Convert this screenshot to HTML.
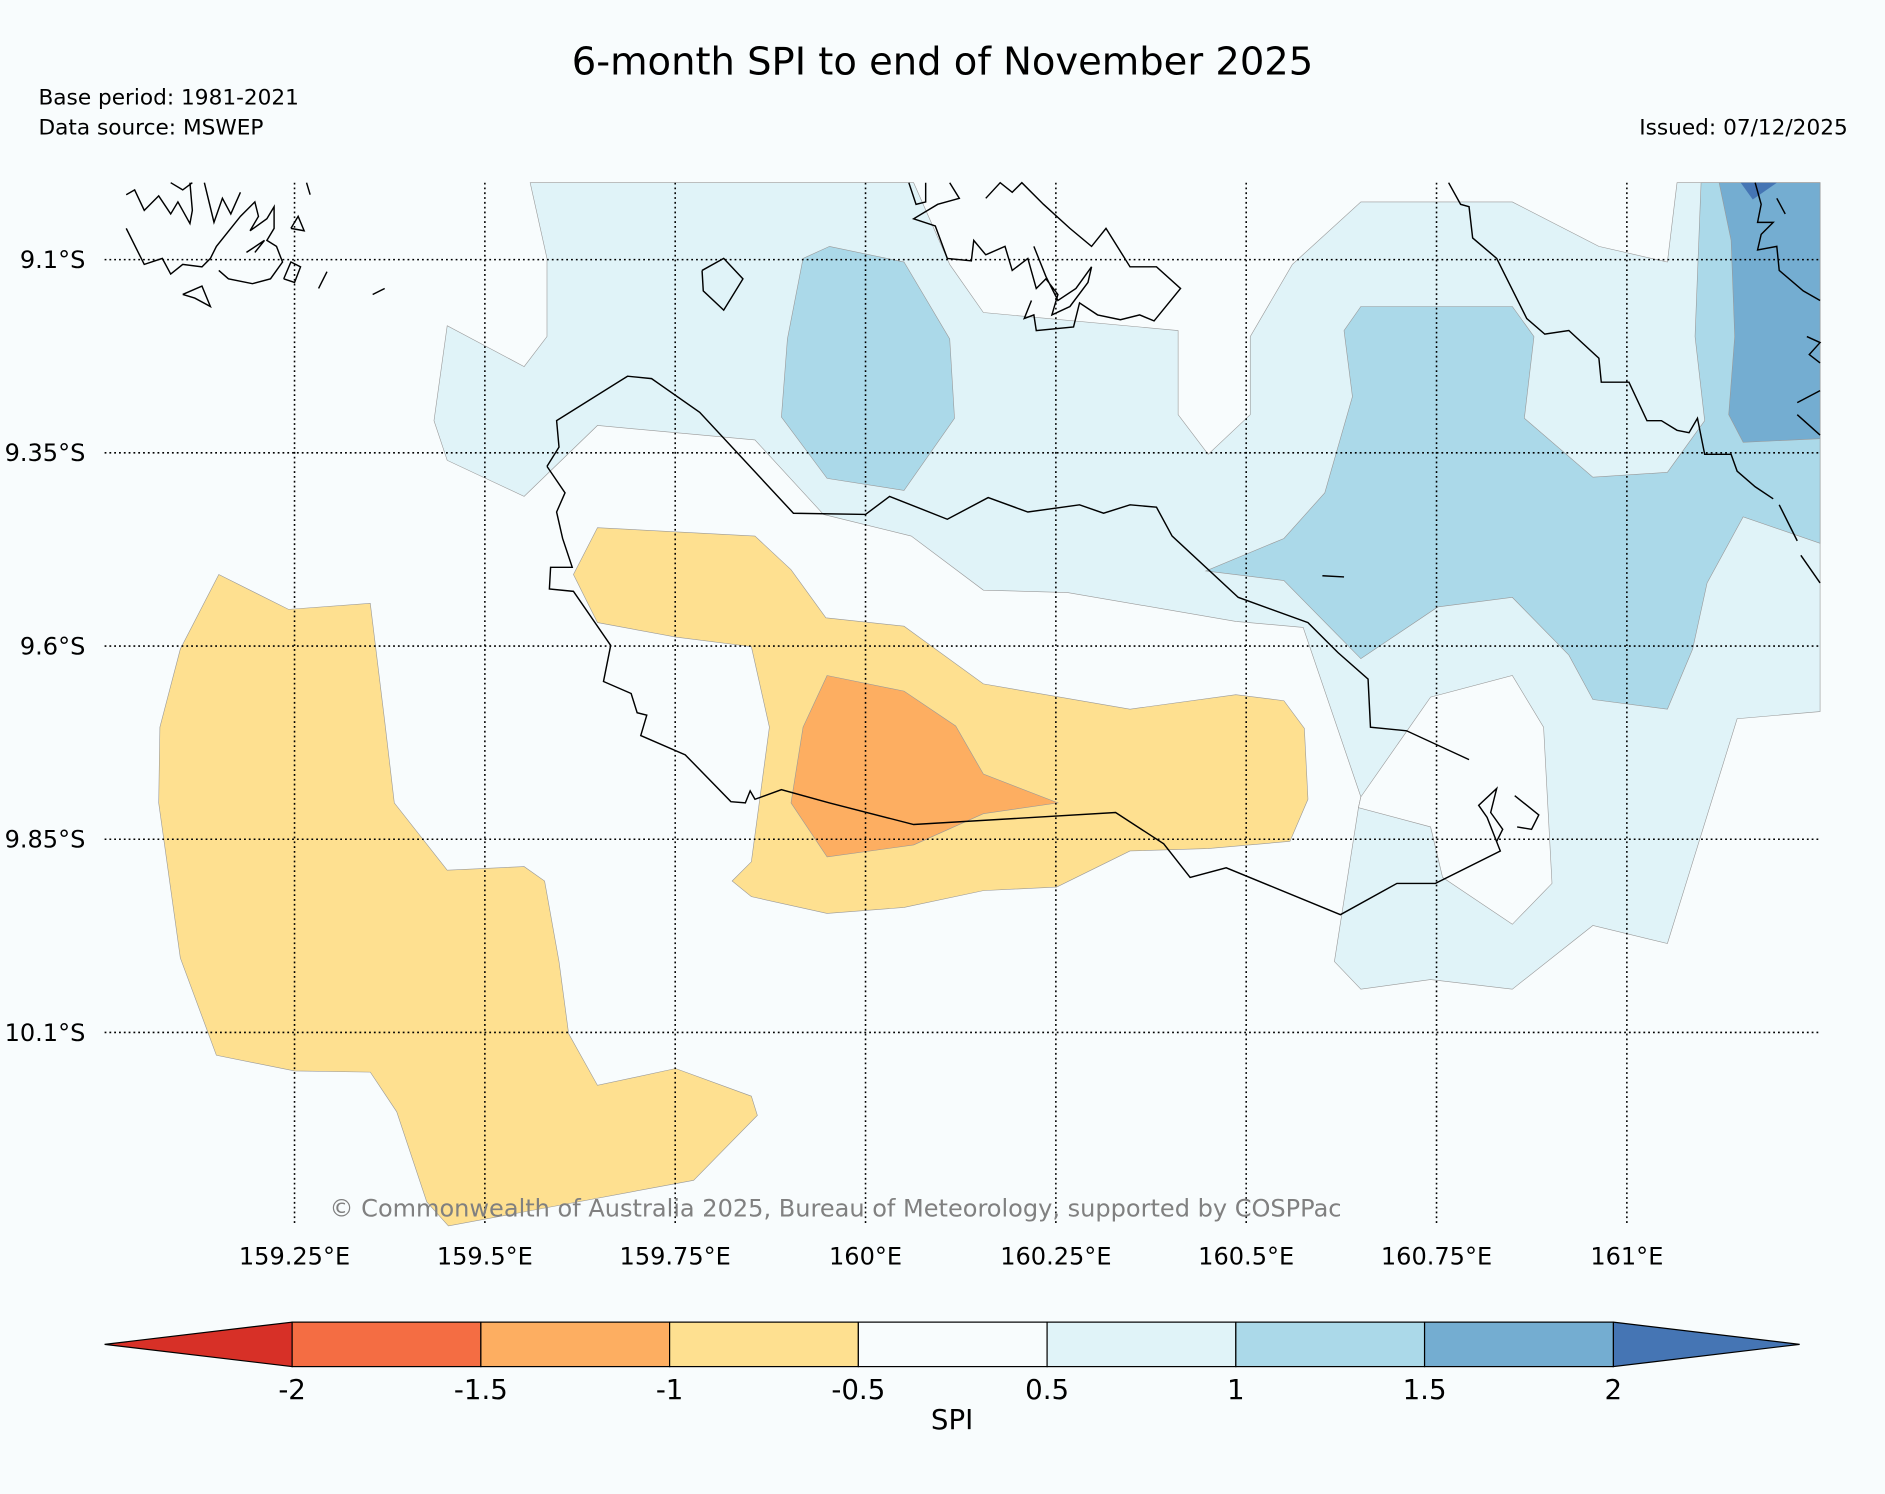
<!DOCTYPE html>
<html><head><meta charset="utf-8"><style>
html,body{margin:0;padding:0;background:#f8fcfd;}
svg{display:block;font-family:"DejaVu Sans","Liberation Sans",sans-serif;}
</style></head><body>
<svg id="chart" width="1885" height="1494" viewBox="0 0 1568 1243" preserveAspectRatio="none">
<rect width="1568" height="1243" fill="#f8fcfd"/>
<text x="784" y="62" font-size="32" text-anchor="middle">6-month SPI to end of November 2025</text>
<text x="32" y="87" font-size="18">Base period: 1981-2021</text>
<text x="32" y="112" font-size="18">Data source: MSWEP</text>
<text x="1537" y="112" font-size="18" text-anchor="end">Issued: 07/12/2025</text>
<g id="map">
<polygon fill="#e0f3f8" stroke="#999" stroke-width="0.5" points="441,152 760,152 790,220 818,260 980,275 980,345 1005,378 1040,345 1040,280 1075,220 1132,168 1258,168 1330,205 1387,218 1395,152 1514,152 1514,592 1445,598 1387,785 1325,770 1258,823 1190,815 1132,823 1110,800 1130,672 1132,663 1084,522 1028,517 888,493 818,491 758,446 685,428 628,366 497,354 436,413 372,383 361,350 372,271 436,305 455,280 455,215"/>
<polygon fill="#f8fcfd" stroke="#999" stroke-width="0.5" points="1132,663 1190,580 1258,562 1284,605 1291,735 1258,769 1200,730 1190,688 1130,672"/>
<polygon fill="#abd9e9" stroke="#999" stroke-width="0.5" points="690,205 752,218 790,282 794,348 752,408 688,398 650,347 655,282 668,215"/>
<polygon fill="#abd9e9" stroke="#999" stroke-width="0.5" points="1132,255 1258,255 1276,280 1268,348 1325,397 1387,393 1418,350 1410,280 1415,152 1514,152 1514,452 1450,430 1420,485 1408,540 1387,590 1325,582 1305,545 1258,497 1196,505 1132,548 1068,483 1003,475 1068,448 1102,410 1125,330 1118,275"/>
<polygon fill="#74add1" stroke="#999" stroke-width="0.5" points="1430,152 1514,152 1514,365 1450,368 1438,345 1443,280 1440,200"/>
<polygon fill="#4575b4" points="1448,152 1478,152 1458,166"/>
<polygon fill="#fee090" stroke="#999" stroke-width="0.5" points="182,478 240,507 308,502 320,600 328,668 372,724 436,721 453,733 465,800 473,860 497,903 562,889 625,912 630,928 577,982 373,1020 355,1000 330,925 308,892 245,891 180,878 150,797 132,668 133,605 150,540"/>
<polygon fill="#fee090" stroke="#999" stroke-width="0.5" points="497,439 628,446 658,474 687,514 752,521 818,569 940,590 1028,578 1068,583 1085,606 1088,665 1073,700 1005,706 940,708 879,738 818,741 752,755 688,760 625,746 609,733 625,717 640,605 625,538 562,530 497,518 477,478"/>
<polygon fill="#fdae61" stroke="#999" stroke-width="0.5" points="688,562 752,575 795,604 818,644 880,668 818,677 760,703 688,713 658,668 668,605"/>
<g fill="none" stroke="#000" stroke-width="1.2">
<polyline points="455,388 465,372 463,350 522,313 542,315 582,343 660,427 720,428 740,413 788,432 822,414 855,426 898,420 918,427 940,420 962,422 975,446 1030,497 1088,518 1113,543 1138,565 1140,605 1170,608 1222,632"/>
<polyline points="455,388 470,410 463,426 468,448 476,472 458,472 457,490 477,492 508,537 502,567 525,577 530,593 538,595 533,612 570,628 608,667 620,668 624,658 628,665 650,657 690,668 760,686 928,676 968,702 990,730 1020,722 1115,761 1162,735 1194,735 1248,708 1237,680 1230,670 1245,656 1240,676 1250,690 1245,700"/>
<polyline points="1260,662 1280,678 1274,690 1262,688"/>
<polyline points="1205,152 1215,170 1222,172 1225,198 1245,215 1270,265 1285,278 1305,275 1330,298 1332,318 1355,318 1370,350 1382,350 1395,358 1405,360 1412,348 1418,378 1440,378 1445,392 1460,405 1475,415"/>
<polyline points="1480,420 1495,450"/><polyline points="1498,462 1514,485"/>
<polyline points="584,225 602,215 618,232 602,258 585,242 584,225"/>
<polyline points="756,152 762,170 770,168 770,152"/>
<polyline points="790,152 798,165 780,170 760,182 778,188 788,215 808,217 810,200 820,212 836,205 842,225 855,215 862,240 870,232 880,245 875,262 890,255 905,235 908,222 895,240 880,250 870,230 860,205"/>
<polyline points="820,165 832,152 842,160 850,152 868,170 890,190 908,205 920,190 940,222 962,222 982,240 960,267 948,262 932,266 913,262 898,252 893,272 862,275 860,262 852,265 858,250"/>
<polyline points="105,162 112,158 120,175 132,163 142,178 148,168 158,186 160,175 158,152"/>
<polyline points="142,152 152,158 160,152"/>
<polyline points="170,152 178,185 185,165 192,178 200,160"/>
<polyline points="105,190 120,220 135,215 142,228 152,220 168,222 175,215 180,205 200,180 212,168 215,180 208,192 222,182 228,172 228,190 222,200 230,205 235,218 225,232 210,236 190,232 182,225"/>
<polyline points="152,245 168,238 175,255 162,248 152,245"/>
<polyline points="205,210 220,200 212,210"/>
<polyline points="242,190 248,180 253,192 242,190"/>
<polyline points="236,232 242,218 250,222 245,235 236,232"/>
<polyline points="265,240 272,226"/><polyline points="310,245 320,240"/>
<polyline points="255,152 258,162"/>
<polyline points="1100,479 1118,480"/>
<polyline points="1460,152 1465,170 1462,185 1475,185 1465,195 1462,208 1478,205 1480,225 1500,242 1514,250"/>
<polyline points="1478,165 1485,178"/>
<polyline points="1503,280 1514,285 1505,295 1514,302"/>
<polyline points="1495,335 1514,325"/><polyline points="1495,345 1514,362"/>
</g>
<g id="grid"></g>
</g>
<text x="695" y="1012" font-size="20" fill="#808080" text-anchor="middle">© Commonwealth of Australia 2025, Bureau of Meteorology, supported by COSPPac</text>
<g id="lonTicks"></g>
<g id="latTicks"></g>
<g id="colorbar"></g>
<text x="792" y="1189" font-size="23" text-anchor="middle">SPI</text>
</svg>
<script>
const lonValues = [159.25, 159.5, 159.75, 160, 160.25, 160.5, 160.75, 161];
const lonLabels = ["159.25°E","159.5°E","159.75°E","160°E","160.25°E","160.5°E","160.75°E","161°E"];
const latValues = [9.1, 9.35, 9.6, 9.85, 10.1];
const latLabels = ["9.1°S","9.35°S","9.6°S","9.85°S","10.1°S"];
const cbLevels = [-2, -1.5, -1, -0.5, 0.5, 1, 1.5, 2];
const cbLabels = ["-2","-1.5","-1","-0.5","0.5","1","1.5","2"];
const cbColors = ["#f46d43","#fdae61","#fee090","#f8fcfd","#e0f3f8","#abd9e9","#74add1"];
const cbUnder = "#d73027";
const cbOver = "#4575b4";

const NS = "http://www.w3.org/2000/svg";
function xLon(l){ return 245 + (l - 159.25) * 633.3; }
function yLat(l){ return 216 + (l - 9.1) * 643; }
function cbX(i){ return 243 + i * 157; }
function mk(tag, attrs, parent){ const e = document.createElementNS(NS, tag); for (const k in attrs) e.setAttribute(k, attrs[k]); parent.appendChild(e); return e; }

const grid = document.getElementById('grid');
const lonG = document.getElementById('lonTicks');
const latG = document.getElementById('latTicks');
lonValues.forEach((v, i) => {
  const x = xLon(v);
  const ln = mk('line', {x1: x, x2: x, y1: 152, y2: 1020, stroke: '#000', 'stroke-width': 1.3, 'stroke-dasharray': '1.5 2.5'}, grid);
  
  
  const t = mk('text', {x: x, y: 1052, 'font-size': 20, 'text-anchor': 'middle'}, lonG);
  t.textContent = lonLabels[i];
  
  
});
latValues.forEach((v, i) => {
  const y = yLat(v);
  const ln = mk('line', {x1: 87, x2: 1514, y1: y, y2: y, stroke: '#000', 'stroke-width': 1.3, 'stroke-dasharray': '1.5 2.5'}, grid);
  
  
  const t = mk('text', {x: 71, y: y + 7, 'font-size': 20, 'text-anchor': 'end'}, latG);
  t.textContent = latLabels[i];
  
  
});

const cb = document.getElementById('colorbar');
const cbTop = 1100, cbBot = 1137, cbMid = 1118.5;
const under = mk('polygon', {points: `87,${cbMid} ${cbX(0)},${cbTop} ${cbX(0)},${cbBot}`, fill: cbUnder, stroke: '#000', 'stroke-width': 1}, cb);


const lastX = cbX(cbColors.length);
const over = mk('polygon', {points: `${lastX},${cbTop} 1497,${cbMid} ${lastX},${cbBot}`, fill: cbOver, stroke: '#000', 'stroke-width': 1}, cb);


cbColors.forEach((c, i) => {
  const r = mk('rect', {x: cbX(i), y: cbTop, width: 157, height: cbBot - cbTop, fill: c, stroke: '#000', 'stroke-width': 1}, cb);
  
  
});
cbLevels.forEach((v, i) => {
  const t = mk('text', {x: cbX(i), y: 1164, 'font-size': 23, 'text-anchor': 'middle'}, cb);
  t.textContent = cbLabels[i];
  
  
});
</script>
</body></html>
